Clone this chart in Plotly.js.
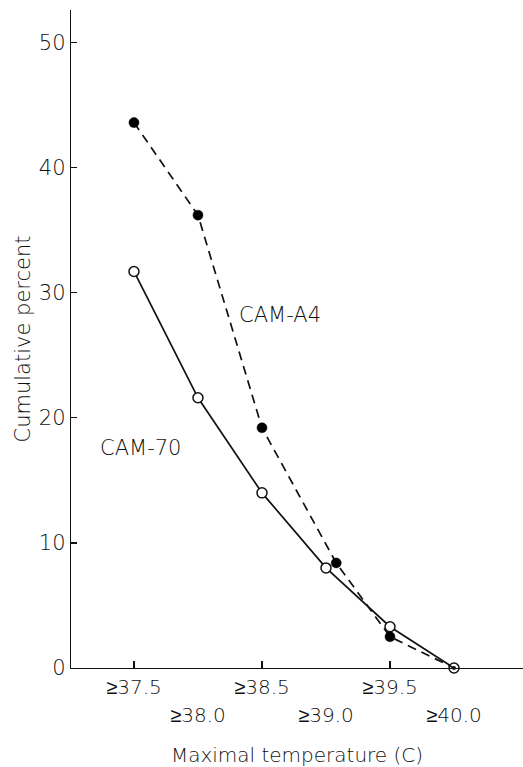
<!DOCTYPE html>
<html>
<head>
<meta charset="utf-8">
<script src="https://cdn.plot.ly/plotly-3.0.1.min.js"></script>
<style>html,body{margin:0;padding:0;background:#fff;}#chart{width:523px;height:767px;}</style>
</head>
<body>
<div id="chart"></div>
<script>
// Data
const tempCategories = [37.5, 38.0, 38.5, 39.0, 39.5, 40.0];
const tickLabelsRow1 = ["≥37.5", "≥38.5", "≥39.5"];
const tickValsRow1 = [37.5, 38.5, 39.5];
const tickLabelsRow2 = ["≥38.0", "≥39.0", "≥40.0"];
const tickValsRow2 = [38.0, 39.0, 40.0];

const cam70X = [37.5, 38.0, 38.5, 39.0, 39.5, 40.0];
const cam70Y = [31.7, 21.6, 14.0, 8.0, 3.3, 0.0];

const camA4X = [37.5, 38.0, 38.5, 39.08, 39.5, 40.0];
const camA4Y = [43.6, 36.2, 19.2, 8.4, 2.5, 0.0];

const yTickVals = [0, 10, 20, 30, 40, 50];

const FONT = "DejaVu Sans, Liberation Sans, sans-serif";
const INK = "#111111";
const TXT = {family: FONT, color: "#111111", weight: 300};

const traces = [
  {
    name: "CAM-70", x: cam70X, y: cam70Y, type: "scatter", mode: "lines+markers",
    line: {color: INK, width: 1.7},
    marker: {symbol: "circle", size: 10, color: "#ffffff", opacity: 1, line: {color: INK, width: 1.5}},
    showlegend: false, cliponaxis: false
  },
  {
    name: "CAM-A4", x: camA4X, y: camA4Y, type: "scatter", mode: "lines+markers",
    line: {color: INK, width: 1.7, dash: "9px,6px"},
    marker: {symbol: "circle", size: [10, 10, 10, 10, 10, 3.5], color: "#000000", opacity: 1, line: {color: "#000000", width: 0.5}},
    showlegend: false, cliponaxis: false
  }
];

const layout = {
  width: 523, height: 767,
  margin: {l: 71, r: 0, t: 10, b: 99, pad: 0},
  paper_bgcolor: "#ffffff", plot_bgcolor: "#ffffff",
  font: Object.assign({size: 20}, TXT),
  showlegend: false,
  xaxis: {
    range: [37.008, 40.539],
    showgrid: false, zeroline: false,
    showline: true, linecolor: INK, linewidth: 1.3,
    ticks: "inside", ticklen: 7, tickwidth: 1.2, tickcolor: INK,
    tickvals: tickValsRow1, ticktext: tickLabelsRow1,
    tickfont: Object.assign({size: 20}, TXT),
    ticklabelstandoff: 1,
    title: {text: "Maximal temperature (C)", font: Object.assign({size: 20}, TXT), standoff: 50}
  },
  xaxis2: {
    overlaying: "x", anchor: "y", side: "bottom",
    range: [37.008, 40.539],
    showgrid: false, zeroline: false, showline: false,
    ticks: "", tickvals: tickValsRow2, ticktext: tickLabelsRow2,
    tickfont: Object.assign({size: 20}, TXT),
    ticklabelstandoff: 33
  },
  yaxis: {
    range: [0, 52.6],
    showgrid: false, zeroline: false,
    showline: true, linecolor: INK, linewidth: 1.3,
    ticks: "inside", ticklen: 6, tickwidth: 1.2, tickcolor: INK,
    tickvals: yTickVals,
    tickfont: Object.assign({size: 21}, TXT),
    title: {text: "Cumulative percent", font: Object.assign({size: 21}, TXT), standoff: 2}
  },
  annotations: [
    {text: "CAM-A4", x: 38.64, y: 28.2, xref: "x", yref: "y", showarrow: false, font: Object.assign({size: 21}, TXT)},
    {text: "CAM-70", x: 37.55, y: 17.6, xref: "x", yref: "y", showarrow: false, font: Object.assign({size: 21}, TXT)}
  ]
};

// Invisible helper trace so the overlaying axis with the second row of labels is drawn
traces.push({x: tempCategories, y: tempCategories.map(() => null), xaxis: "x2", yaxis: "y", type: "scatter", mode: "markers", showlegend: false, hoverinfo: "skip"});

Plotly.newPlot("chart", traces, layout, {displayModeBar: false, staticPlot: true});
</script>
</body>
</html>
